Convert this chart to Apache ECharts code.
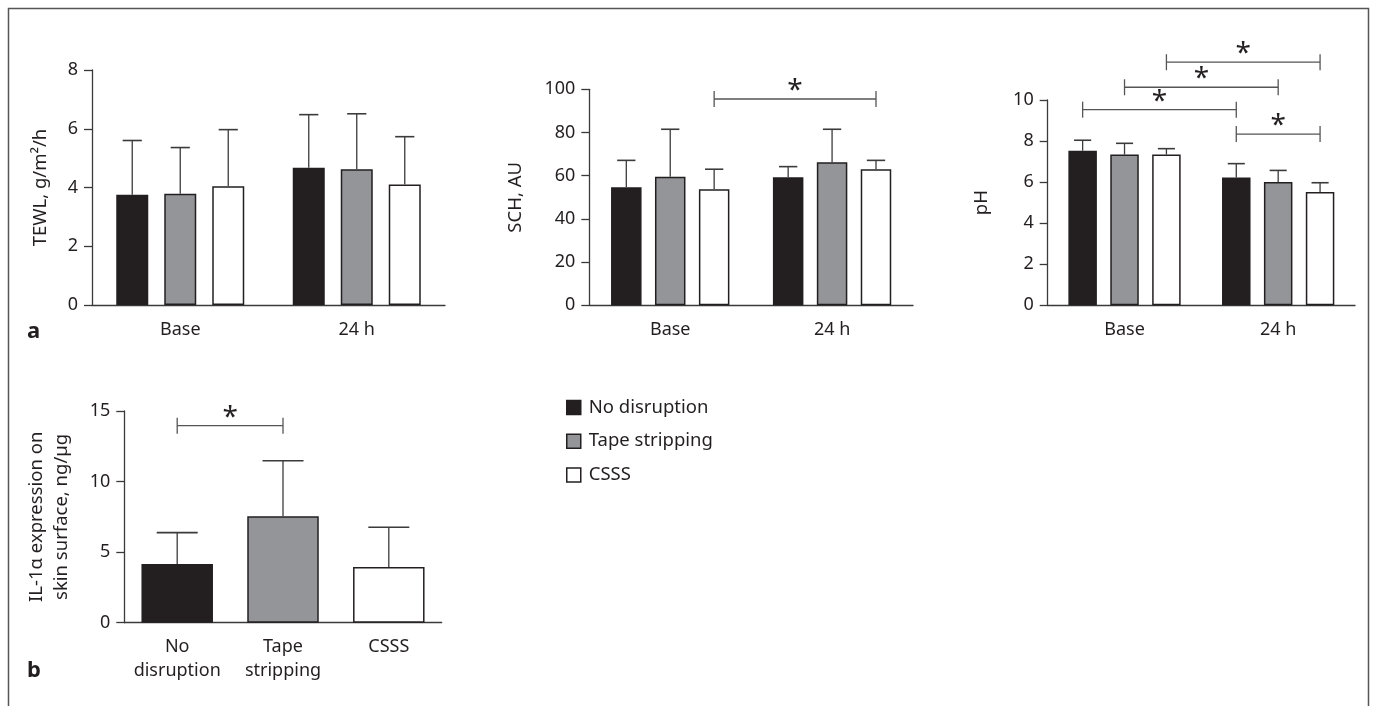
<!DOCTYPE html>
<html><head><meta charset="utf-8">
<script src="https://cdn.jsdelivr.net/npm/echarts@6/dist/echarts.min.js"></script>
<style>html,body{margin:0;padding:0;background:#fff}#c{width:1375px;height:706px}</style>
</head><body><div id="c"></div>
<script>
// ---- data ----
const groupCategories = ['Base', '24 h'];
const seriesNames = ['No disruption', 'Tape stripping', 'CSSS'];

const tewlNoDisruption = [3.75, 4.67];
const tewlTapeStripping = [3.79, 4.62];
const tewlCSSS = [4.04, 4.10];
const tewlNoDisruptionUpper = [5.60, 6.48];
const tewlTapeStrippingUpper = [5.36, 6.51];
const tewlCSSSUpper = [5.97, 5.73];

const schNoDisruption = [54.6, 59.3];
const schTapeStripping = [59.5, 66.2];
const schCSSS = [53.7, 63.0];
const schNoDisruptionUpper = [67.1, 64.2];
const schTapeStrippingUpper = [81.5, 81.5];
const schCSSSUpper = [63.0, 67.1];

const phNoDisruption = [7.53, 6.22];
const phTapeStripping = [7.34, 6.00];
const phCSSS = [7.34, 5.52];
const phNoDisruptionUpper = [8.04, 6.90];
const phTapeStrippingUpper = [7.89, 6.57];
const phCSSSUpper = [7.63, 5.97];

const il1Categories = ['No\ndisruption', 'Tape\nstripping', 'CSSS'];
const il1Values = [4.16, 7.54, 3.95];
const il1Upper = [6.38, 11.48, 6.76];

// significance brackets: [fromCategory, fromBar, toCategory, toBar, height]
const schBrackets = [[0, 2, 1, 2, 95.5]];
const phBrackets = [[0, 2, 1, 2, 11.84], [0, 1, 1, 1, 10.62], [0, 0, 1, 0, 9.53], [1, 0, 1, 2, 8.34]];
const il1Brackets = [[0, 1, 1, 1, 13.96]];

// axis ticks
const tewlAxis = {min: 0, max: 8, interval: 2};
const schAxis = {min: 0, max: 100, interval: 20};
const phAxis = {min: 0, max: 10, interval: 2};
const il1Axis = {min: 0, max: 15, interval: 5};

// ---- styling ----
const FONT = 'Noto Sans';
const TXT = '#231f20';
const AX = '#3a3a3a';
const fills = ['#231f20', '#939598', '#ffffff'];
const EDGE = '#231f20';

const panels = [
  {means: [tewlNoDisruption, tewlTapeStripping, tewlCSSS], uppers: [tewlNoDisruptionUpper, tewlTapeStrippingUpper, tewlCSSSUpper], barWidth: 32, gap: 0.5, brackets: [], axis: tewlAxis, name: 'TEWL, g/m\u00b2/h', nameGap: 42},
  {means: [schNoDisruption, schTapeStripping, schCSSS], uppers: [schNoDisruptionUpper, schTapeStrippingUpper, schCSSSUpper], barWidth: 30.5, gap: 0.44, brackets: schBrackets, axis: schAxis, name: 'SCH, AU', nameGap: 64},
  {means: [phNoDisruption, phTapeStripping, phCSSS], uppers: [phNoDisruptionUpper, phTapeStrippingUpper, phCSSSUpper], barWidth: 28.5, gap: 0.47, brackets: phBrackets, axis: phAxis, name: 'pH', nameGap: 56}
];

const grids = [
  {left: 92, top: 70, width: 353, height: 235},
  {left: 589.3, top: 89.3, width: 323.7, height: 216},
  {left: 1047.7, top: 100, width: 307.3, height: 205.3},
  {left: 124.3, top: 411, width: 317.4, height: 211.7}
].map(g => Object.assign({outerBoundsMode: 'none', containLabel: false}, g));

function xAxisFor(i, data, margin) {
  return {
    type: 'category', gridIndex: i, data: data,
    axisLine: {lineStyle: {color: AX, width: 1.3}},
    axisTick: {alignWithLabel: true, interval: 0, length: 7, lineStyle: {color: AX, width: 1.3}},
    axisLabel: {interval: 0, hideOverlap: false, fontFamily: FONT, fontSize: 18, color: TXT, lineHeight: 24, margin: margin},
    splitLine: {show: false}
  };
}
function yAxisFor(i, ax, name, nameGap, extra) {
  return Object.assign({
    type: 'value', gridIndex: i, min: ax.min, max: ax.max, interval: ax.interval,
    name: name, nameLocation: 'middle', nameGap: nameGap, nameRotate: 90,
    nameTextStyle: {fontFamily: FONT, fontSize: 18.5, color: TXT},
    axisLine: {show: true, lineStyle: {color: AX, width: 1.3}},
    axisTick: {show: true, length: 8, lineStyle: {color: AX, width: 1.3}},
    axisLabel: {fontFamily: FONT, fontSize: 18, color: TXT, margin: 14},
    splitLine: {show: false}
  }, extra || {});
}

function errorRender(step, k, capW) {
  return function (params, api) {
    const cat = api.value(0);
    const base = api.coord([cat, api.value(1)]);
    const top = api.coord([cat, api.value(2)]);
    const x = base[0] + (k - 1) * step;
    return {type: 'group', children: [
      {type: 'line', shape: {x1: x, y1: base[1], x2: x, y2: top[1]}, style: {stroke: '#3b3b3b', lineWidth: 1.3}},
      {type: 'line', shape: {x1: x - capW / 2, y1: top[1], x2: x + capW / 2, y2: top[1]}, style: {stroke: '#3b3b3b', lineWidth: 1.6}}
    ]};
  };
}
function bracketRender(step) {
  return function (params, api) {
    const y = api.value(4);
    const p1 = api.coord([api.value(0), y]);
    const p2 = api.coord([api.value(2), y]);
    const x1 = p1[0] + (api.value(1) - 1) * step;
    const x2 = p2[0] + (api.value(3) - 1) * step;
    const yy = p1[1];
    const ls = {stroke: '#555', lineWidth: 1.3};
    return {type: 'group', children: [
      {type: 'line', shape: {x1: x1, y1: yy, x2: x2, y2: yy}, style: ls},
      {type: 'line', shape: {x1: x1, y1: yy - 8, x2: x1, y2: yy + 8}, style: ls},
      {type: 'line', shape: {x1: x2, y1: yy - 8, x2: x2, y2: yy + 8}, style: ls},
      {type: 'text', style: {text: '*', x: (x1 + x2) / 2, y: yy - 8, fontSize: 28, fontFamily: FONT, fill: TXT, align: 'center', verticalAlign: 'middle'}}
    ]};
  };
}

const xAxes = [], yAxes = [], series = [];
panels.forEach((p, i) => {
  xAxes.push(xAxisFor(i, groupCategories, 13));
  yAxes.push(yAxisFor(i, p.axis, p.name, p.nameGap));
  const step = p.barWidth * (1 + p.gap);
  p.means.forEach((m, k) => {
    series.push({
      type: 'bar', name: seriesNames[k], xAxisIndex: i, yAxisIndex: i, data: m,
      barWidth: p.barWidth, barGap: (p.gap * 100) + '%', silent: true,
      itemStyle: {color: fills[k], borderColor: EDGE, borderWidth: 1.5}
    });
    series.push({
      type: 'custom', xAxisIndex: i, yAxisIndex: i, silent: true, clip: false, z: 3,
      renderItem: errorRender(step, k, p.barWidth * 0.6),
      data: m.map((v, c) => [c, v, p.uppers[k][c]])
    });
  });
  if (p.brackets.length) {
    series.push({
      type: 'custom', xAxisIndex: i, yAxisIndex: i, silent: true, clip: false, z: 4,
      renderItem: bracketRender(step),
      encode: {x: 0, y: 4},
      data: p.brackets
    });
  }
});

// panel b
xAxes.push(xAxisFor(3, il1Categories, 12));
yAxes.push(yAxisFor(3, il1Axis, 'IL-1\u03b1 expression on\nskin surface, ng/\u00b5g', 50,
  {nameTextStyle: {fontFamily: FONT, fontSize: 18.5, color: TXT, lineHeight: 25, align: 'center'}}));
series.push({
  type: 'bar', name: 'IL-1\u03b1', xAxisIndex: 3, yAxisIndex: 3, silent: true, barWidth: 71.5,
  data: il1Values.map((v, c) => ({value: v, itemStyle: {color: fills[c], borderColor: EDGE, borderWidth: 1.5}}))
});
series.push({
  type: 'custom', xAxisIndex: 3, yAxisIndex: 3, silent: true, clip: false, z: 3,
  renderItem: errorRender(0, 1, 41),
  data: il1Values.map((v, c) => [c, v, il1Upper[c]])
});
series.push({
  type: 'custom', xAxisIndex: 3, yAxisIndex: 3, silent: true, clip: false, z: 4,
  renderItem: bracketRender(0), encode: {x: 0, y: 4},
  data: il1Brackets
});

const chart = echarts.init(document.getElementById('c'), null, {renderer: 'canvas'});
chart.setOption({
  animation: false,
  backgroundColor: '#fff',
  grid: grids,
  xAxis: xAxes,
  yAxis: yAxes,
  series: series,
  legend: {
    orient: 'vertical', left: 566, top: 397.5, padding: 0, itemWidth: 14, itemHeight: 14, itemGap: 13.7,
    selectedMode: false, icon: 'rect',
    textStyle: {fontFamily: FONT, fontSize: 18.5, color: TXT, lineHeight: 20, padding: [0, 0, 0, 3]},
    data: seriesNames.map((n, k) => ({name: n, itemStyle: {color: fills[k], borderColor: EDGE, borderWidth: 1.5}}))
  },
  graphic: [
    {type: 'rect', shape: {x: 8.5, y: 8.5, width: 1360, height: 800}, style: {fill: null, stroke: '#555', lineWidth: 1.5}, silent: true},
    {type: 'text', left: 27, top: 321, style: {text: 'a', fontFamily: FONT, fontWeight: 'bold', fontSize: 22, fill: TXT}},
    {type: 'text', left: 27, top: 660, style: {text: 'b', fontFamily: FONT, fontWeight: 'bold', fontSize: 22, fill: TXT}}
  ]
});
</script>
</body></html>
